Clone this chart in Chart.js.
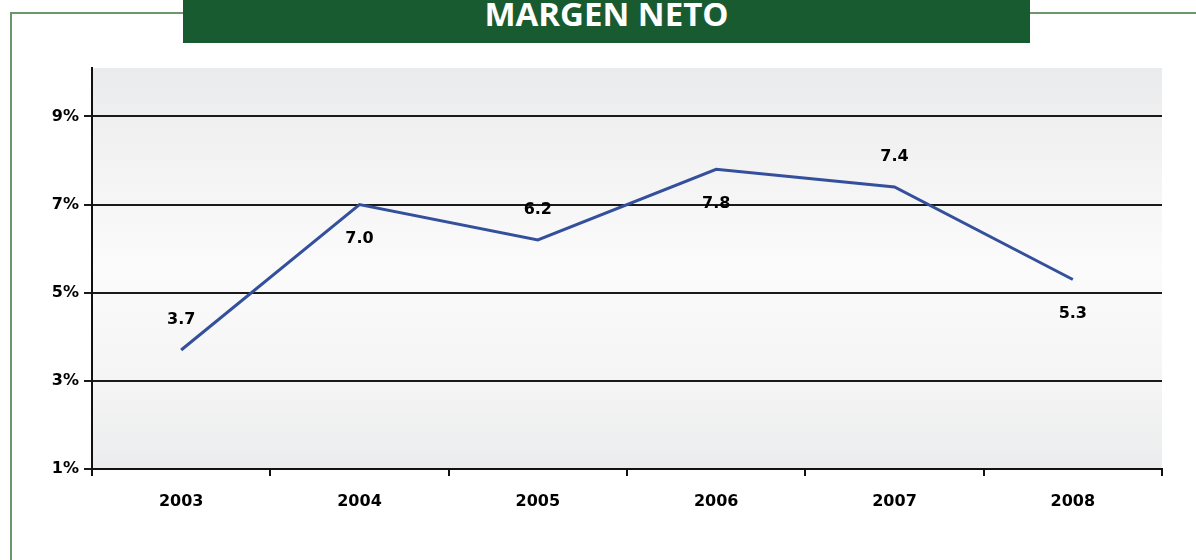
<!DOCTYPE html>
<html>
<head>
<meta charset="utf-8">
<script src="https://cdn.jsdelivr.net/npm/chart.js@4.4.1/dist/chart.umd.min.js"></script>
<style>
    html, body { margin: 0; padding: 0; background: #fff; }
    #wrap { position: relative; width: 1196px; height: 560px; overflow: hidden; }
    #frame {
        position: absolute; left: 10px; top: 12px; right: -4px; bottom: -4px;
        border-left: 2px solid #6b976b; border-top: 2px solid #6b976b;
    }
    #titleBar {
        position: absolute; left: 183px; top: 0; width: 847px; height: 43px;
        background: #195b30; color: #fff;
        font: bold 33px "Open Sans", sans-serif;
        text-align: center; line-height: 33px; overflow: hidden;
    }
    #titleBar span { position: relative; top: -3px; }
    canvas { position: absolute; left: 0; top: 0; }
</style>
</head>
<body>
<div id="wrap">
    <div id="frame"></div>
    <div id="titleBar"><span>MARGEN NETO</span></div>
    <canvas id="margenChart" width="1196" height="560"></canvas>
</div>
<script>
// Data
const years = ['2003', '2004', '2005', '2006', '2007', '2008'];
const margenNeto = [3.7, 7.0, 6.2, 7.8, 7.4, 5.3];
const yTickValues = [1, 3, 5, 7, 9];
const yTickLabels = ['1%', '3%', '5%', '7%', '9%'];

const FONT = '"DejaVu Sans", sans-serif';

// Gray gradient behind the plot area
const plotBackground = {
    id: 'plotBackground',
    beforeDraw(chart) {
        const { ctx, chartArea: a } = chart;
        const g = ctx.createLinearGradient(0, a.top, 0, a.bottom);
        g.addColorStop(0, '#eaebec');
        g.addColorStop(0.15, '#f0f0f1');
        g.addColorStop(0.5, '#fbfbfb');
        g.addColorStop(0.8, '#f4f4f4');
        g.addColorStop(1, '#ebeced');
        ctx.save();
        ctx.fillStyle = g;
        ctx.fillRect(a.left, a.top, a.right - a.left, a.bottom - a.top);
        ctx.restore();
    }
};

// Value labels, alternating above / below the line
const valueLabels = {
    id: 'valueLabels',
    afterDatasetsDraw(chart) {
        const { ctx } = chart;
        const meta = chart.getDatasetMeta(0);
        ctx.save();
        ctx.font = 'bold 16px ' + FONT;
        ctx.fillStyle = '#000';
        ctx.textAlign = 'center';
        ctx.textBaseline = 'middle';
        meta.data.forEach((pt, i) => {
            const dy = i % 2 === 0 ? -30 : 34;
            ctx.fillText(margenNeto[i].toFixed(1), pt.x, pt.y + dy);
        });
        ctx.restore();
    }
};

const ctx = document.getElementById('margenChart').getContext('2d');
new Chart(ctx, {
    type: 'line',
    data: {
        labels: years,
        datasets: [{
            label: 'Margen neto',
            data: margenNeto,
            borderColor: '#34509c',
            borderWidth: 3,
            pointRadius: 0,
            tension: 0,
            fill: false
        }]
    },
    options: {
        responsive: false,
        animation: false,
        layout: { padding: { top: 68, right: 34, bottom: 0, left: 0 } },
        plugins: {
            legend: { display: false },
            tooltip: { enabled: false }
        },
        scales: {
            x: {
                offset: true,
                afterFit(scale) { scale.height = 91; },
                grid: {
                    offset: true,
                    drawOnChartArea: false,
                    drawTicks: true,
                    tickLength: 7,
                    color: '#111',
                    lineWidth: 2
                },
                border: { display: true, color: '#111', width: 2 },
                ticks: {
                    color: '#000',
                    padding: 16,
                    maxRotation: 0,
                    font: { family: FONT, size: 16, weight: 'bold' }
                }
            },
            y: {
                min: 1,
                max: 10.1,
                afterFit(scale) { scale.width = 92; },
                afterBuildTicks(scale) {
                    scale.ticks = yTickValues.map(v => ({ value: v }));
                },
                grid: {
                    color: '#1a1a1a',
                    lineWidth: 2,
                    drawTicks: true,
                    tickLength: 8
                },
                border: { display: true, color: '#111', width: 2 },
                ticks: {
                    color: '#000',
                    padding: 5,
                    font: { family: FONT, size: 16, weight: 'bold' },
                    callback: (v) => yTickLabels[yTickValues.indexOf(v)]
                }
            }
        }
    },
    plugins: [plotBackground, valueLabels]
});
</script>
</body>
</html>
